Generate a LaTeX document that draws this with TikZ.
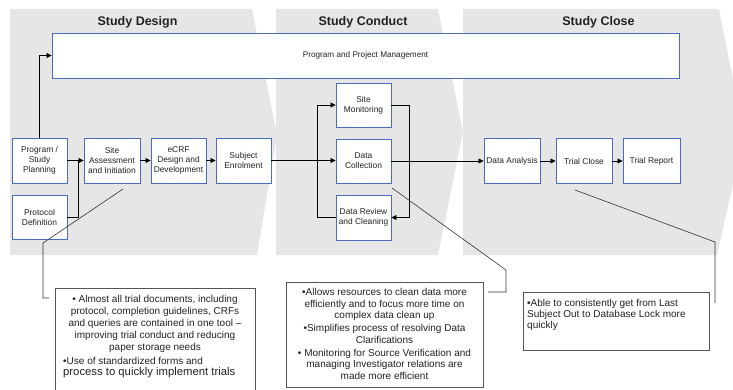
\documentclass[tikz,border=0pt]{standalone}
\usepackage{fontspec}
\setmainfont{Liberation Sans}
\usetikzlibrary{arrows.meta}
\definecolor{phasegray}{HTML}{E6E6E6}
\definecolor{boxblue}{HTML}{4A6CBF}
\definecolor{txt}{HTML}{222222}
\definecolor{calloutgray}{HTML}{555555}
\begin{document}
\begin{tikzpicture}[x=1pt,y=-1pt,
  phase/.style={fill=phasegray,draw=none},
  phasetitle/.style={font=\fontsize{12.5}{14}\selectfont\bfseries,text=txt},
  procbox/.style={draw=boxblue,line width=0.9pt,fill=white,align=center,inner sep=1pt,
    font=\fontsize{8.4}{10}\selectfont,text=txt,minimum width=55,minimum height=45},
  conn/.style={draw=black,line width=0.8pt},
  arr/.style={conn,-{Triangle[length=5pt,width=5pt]}},
  callline/.style={draw=black!80,line width=0.6pt},
  callbox/.style={draw=calloutgray,line width=0.8pt,fill=white},
  calltext/.style={font=\fontsize{10}{12}\selectfont,text=txt,inner sep=0pt}
]
\useasboundingbox (0,0) rectangle (733,390);
% phases
\fill[phase] (10,9) -- (252,9) -- (277,135) -- (257,255) -- (10,255) -- cycle;
\fill[phase] (276,9) -- (438,9) -- (463,132) -- (438,255) -- (276,255) -- cycle;
\fill[phase] (463,9) -- (719,9) -- (744,135) -- (717,255) -- (463,255) -- cycle;
\node[phasetitle] (t1) at (137.5,22) {Study Design};
\node[phasetitle] (t2) at (363,22) {Study Conduct};
\node[phasetitle] (t3) at (598.5,22) {Study Close};
% program management
\node[procbox,minimum width=627,minimum height=45,font=\fontsize{8.2}{10}\selectfont] (pm) at (365.5,55.5) {Program and Project Management};
% process boxes
\node[procbox] (psp) at (39.5,160.5) {Program /\\Study\\Planning};
\node[procbox,minimum height=44] (pd) at (39.5,217) {Protocol\\Definition};
\node[procbox,minimum width=56] (sai) at (112,160.5) {Site\\Assessment\\and Initiation};
\node[procbox] (ecrf) at (178.5,160.5) {eCRF\\Design and\\Development};
\node[procbox] (se) at (243.5,160.5) {Subject\\Enrolment};
\node[procbox,minimum height=44] (sm) at (363.5,105) {Site\\Monitoring};
\node[procbox,minimum height=44] (dc) at (363.5,161) {Data\\Collection};
\node[procbox] (drc) at (363.5,217.5) {Data Review\\and Cleaning};
\node[procbox,minimum width=56] (da) at (512,161) {Data Analysis};
\node[procbox,minimum width=56] (tc) at (584,161) {Trial Close};
\node[procbox,minimum width=57] (tr) at (651.5,161) {Trial Report};
% connectors
\coordinate (j1) at (78,160.5);
\draw[arr] (psp.north) |- (pm.west);
\draw[arr] (psp.east) -- (sai.west);
\draw[conn] (pd.east) -| (j1);
\draw[arr] (sai.east) -- (ecrf.west);
\draw[arr] (ecrf.east) -- (se.west);
\draw[arr] (se.east) -- (se.east -| dc.west);
\draw[arr] (drc.west) -- ++(-18,0) |- (sm.west);
\draw[arr] (sm.east) -- ++(18,0) |- (drc.east);
\draw[arr] (dc.east) -- (da.west);
\draw[arr] (da.east) -- (tc.west);
\draw[arr] (tc.east) -- (tr.west);
% callout boxes
\node[callbox,anchor=north west,minimum width=200,minimum height=110,inner sep=0pt] (b1) at (55,288) {};
\node[calltext,align=center,anchor=north] (b1a) at (155,295) {\textbullet\ Almost all trial documents, including\\protocol, completion guidelines, CRFs\\and queries are contained in one tool --\\improving trial conduct and reducing\\paper storage needs};
\node[calltext,align=left,anchor=north west] (b1b) at (63,357) {\textbullet Use of standardized forms and\\[-0.5pt]{\fontsize{11.3}{13}\selectfont process to quickly implement trials}};
\node[callbox,anchor=north west,minimum width=197,minimum height=105,inner sep=0pt] (b2) at (286,282) {};
\node[calltext,align=center,font=\fontsize{10}{11.5}\selectfont] (b2t) at (384.5,334) {\textbullet Allows resources to clean data more\\efficiently and to focus more time on\\complex data clean up\\[1.5pt]\textbullet Simplifies process of resolving Data\\Clarifications\\[1.5pt]\textbullet\ Monitoring for Source Verification and\\managing Investigator relations are\\made more efficient};
\node[callbox,anchor=north west,minimum width=186,minimum height=58,inner sep=0pt] (b3) at (523,292) {};
\node[calltext,align=left,anchor=north west,font=\fontsize{10}{11}\selectfont] (b3t) at (527,299.5) {\textbullet Able to consistently get from Last\\Subject Out to Database Lock more\\quickly};
% callout lines
\coordinate (c1a) at (123,189);
\coordinate (c1b) at (43,243);
\coordinate (c1c) at (43,298);
\coordinate (c1d) at (49,298);
\draw[callline] (c1a) -- (c1b) -- (c1c) -- (c1d);
\coordinate (c2a) at (392,188);
\coordinate (c2b) at (506,270);
\coordinate (c2c) at (506,292);
\coordinate (c2d) at (488,292);
\draw[callline] (c2a) -- (c2b) -- (c2c) -- (c2d);
\coordinate (c3a) at (575,190);
\coordinate (c3b) at (715,242);
\coordinate (c3c) at (715,303);
\draw[callline] (c3a) -- (c3b) -- (c3c);
\end{tikzpicture}
\end{document}
